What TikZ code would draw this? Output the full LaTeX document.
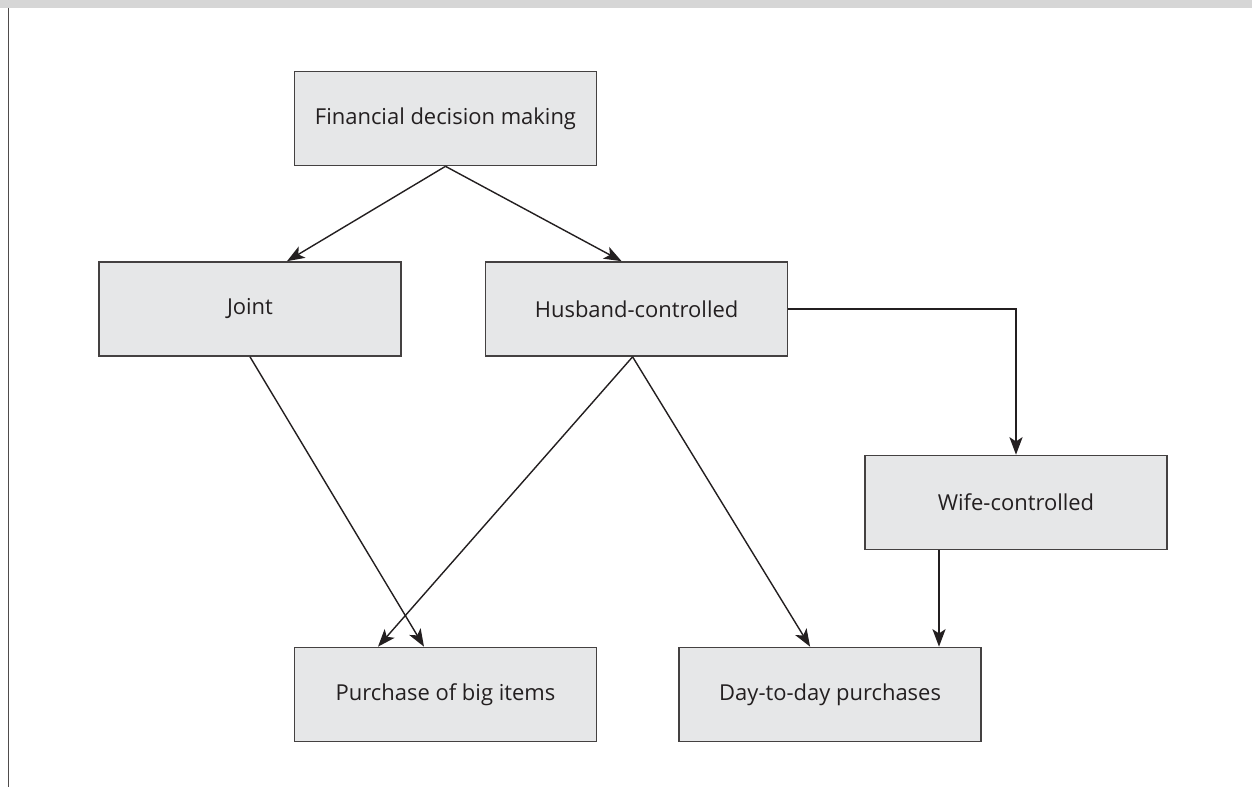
\documentclass[tikz,border=0pt]{standalone}
\usepackage{fontspec}
\setmainfont{Open Sans}
\usepackage{tikz}
\usetikzlibrary{calc,positioning,arrows.meta}

\definecolor{boxgray}{HTML}{E6E7E8}
\definecolor{linegray}{HTML}{231F20}
\definecolor{bandgray}{HTML}{D6D6D6}

\begin{document}
\begin{tikzpicture}[
        x=0.02cm, y=-0.02cm,
        box/.style={rectangle, draw=linegray!85, fill=boxgray, line width=0.95pt, minimum width=6.04cm, minimum height=1.88cm, align=center, text=linegray, font=\fontsize{12.5}{15}\selectfont},
        arrow/.style={draw=linegray, line width=0.8pt, -{Stealth[length=10pt, width=7.5pt, inset=2.5pt]}}
    ]
        \useasboundingbox (0,0) rectangle (1252,787);
        % Frame
        \fill [bandgray] (0,0) rectangle (1252,8);
        \draw [linegray!80, line width=0.95pt] (8.5,8) -- (8.5,787);

        % Nodes
        \node (fin) [box] at (445.5,118.5) {Financial decision making};
        \node (joint) [box] at (250,309) {Joint};
        \node (husband) [box, right=1.66cm of joint] {Husband-controlled};
        \node (wife) [box] at (1016,502.5) {Wife-controlled};
        \node (big) [box] at (445.5,694.5) {Purchase of big items};
        \node (daily) [box, right=1.62cm of big] {Day-to-day purchases};

        \coordinate (hstart) at ($(husband.south)+(-4,0)$);
        \coordinate (wstart) at ($(wife.south)+(-77,0)$);

        % Connectors
        \draw [arrow] (fin.south) -- ($(joint.north)+(37,0)$);
        \draw [arrow] (fin.south) -- ($(husband.north)+(-15,0)$);
        \draw [arrow] (husband.east) -| (wife.north);
        \draw [arrow] (joint.south) -- ($(big.north)+(-21.5,0)$);
        \draw [arrow] (hstart) -- ($(big.north)+(-67.5,0)$);
        \draw [arrow] (hstart) -- ($(daily.north)+(-20,0)$);
        \draw [arrow] (wstart) -- (wstart |- daily.north);
    \end{tikzpicture}
\end{document}
